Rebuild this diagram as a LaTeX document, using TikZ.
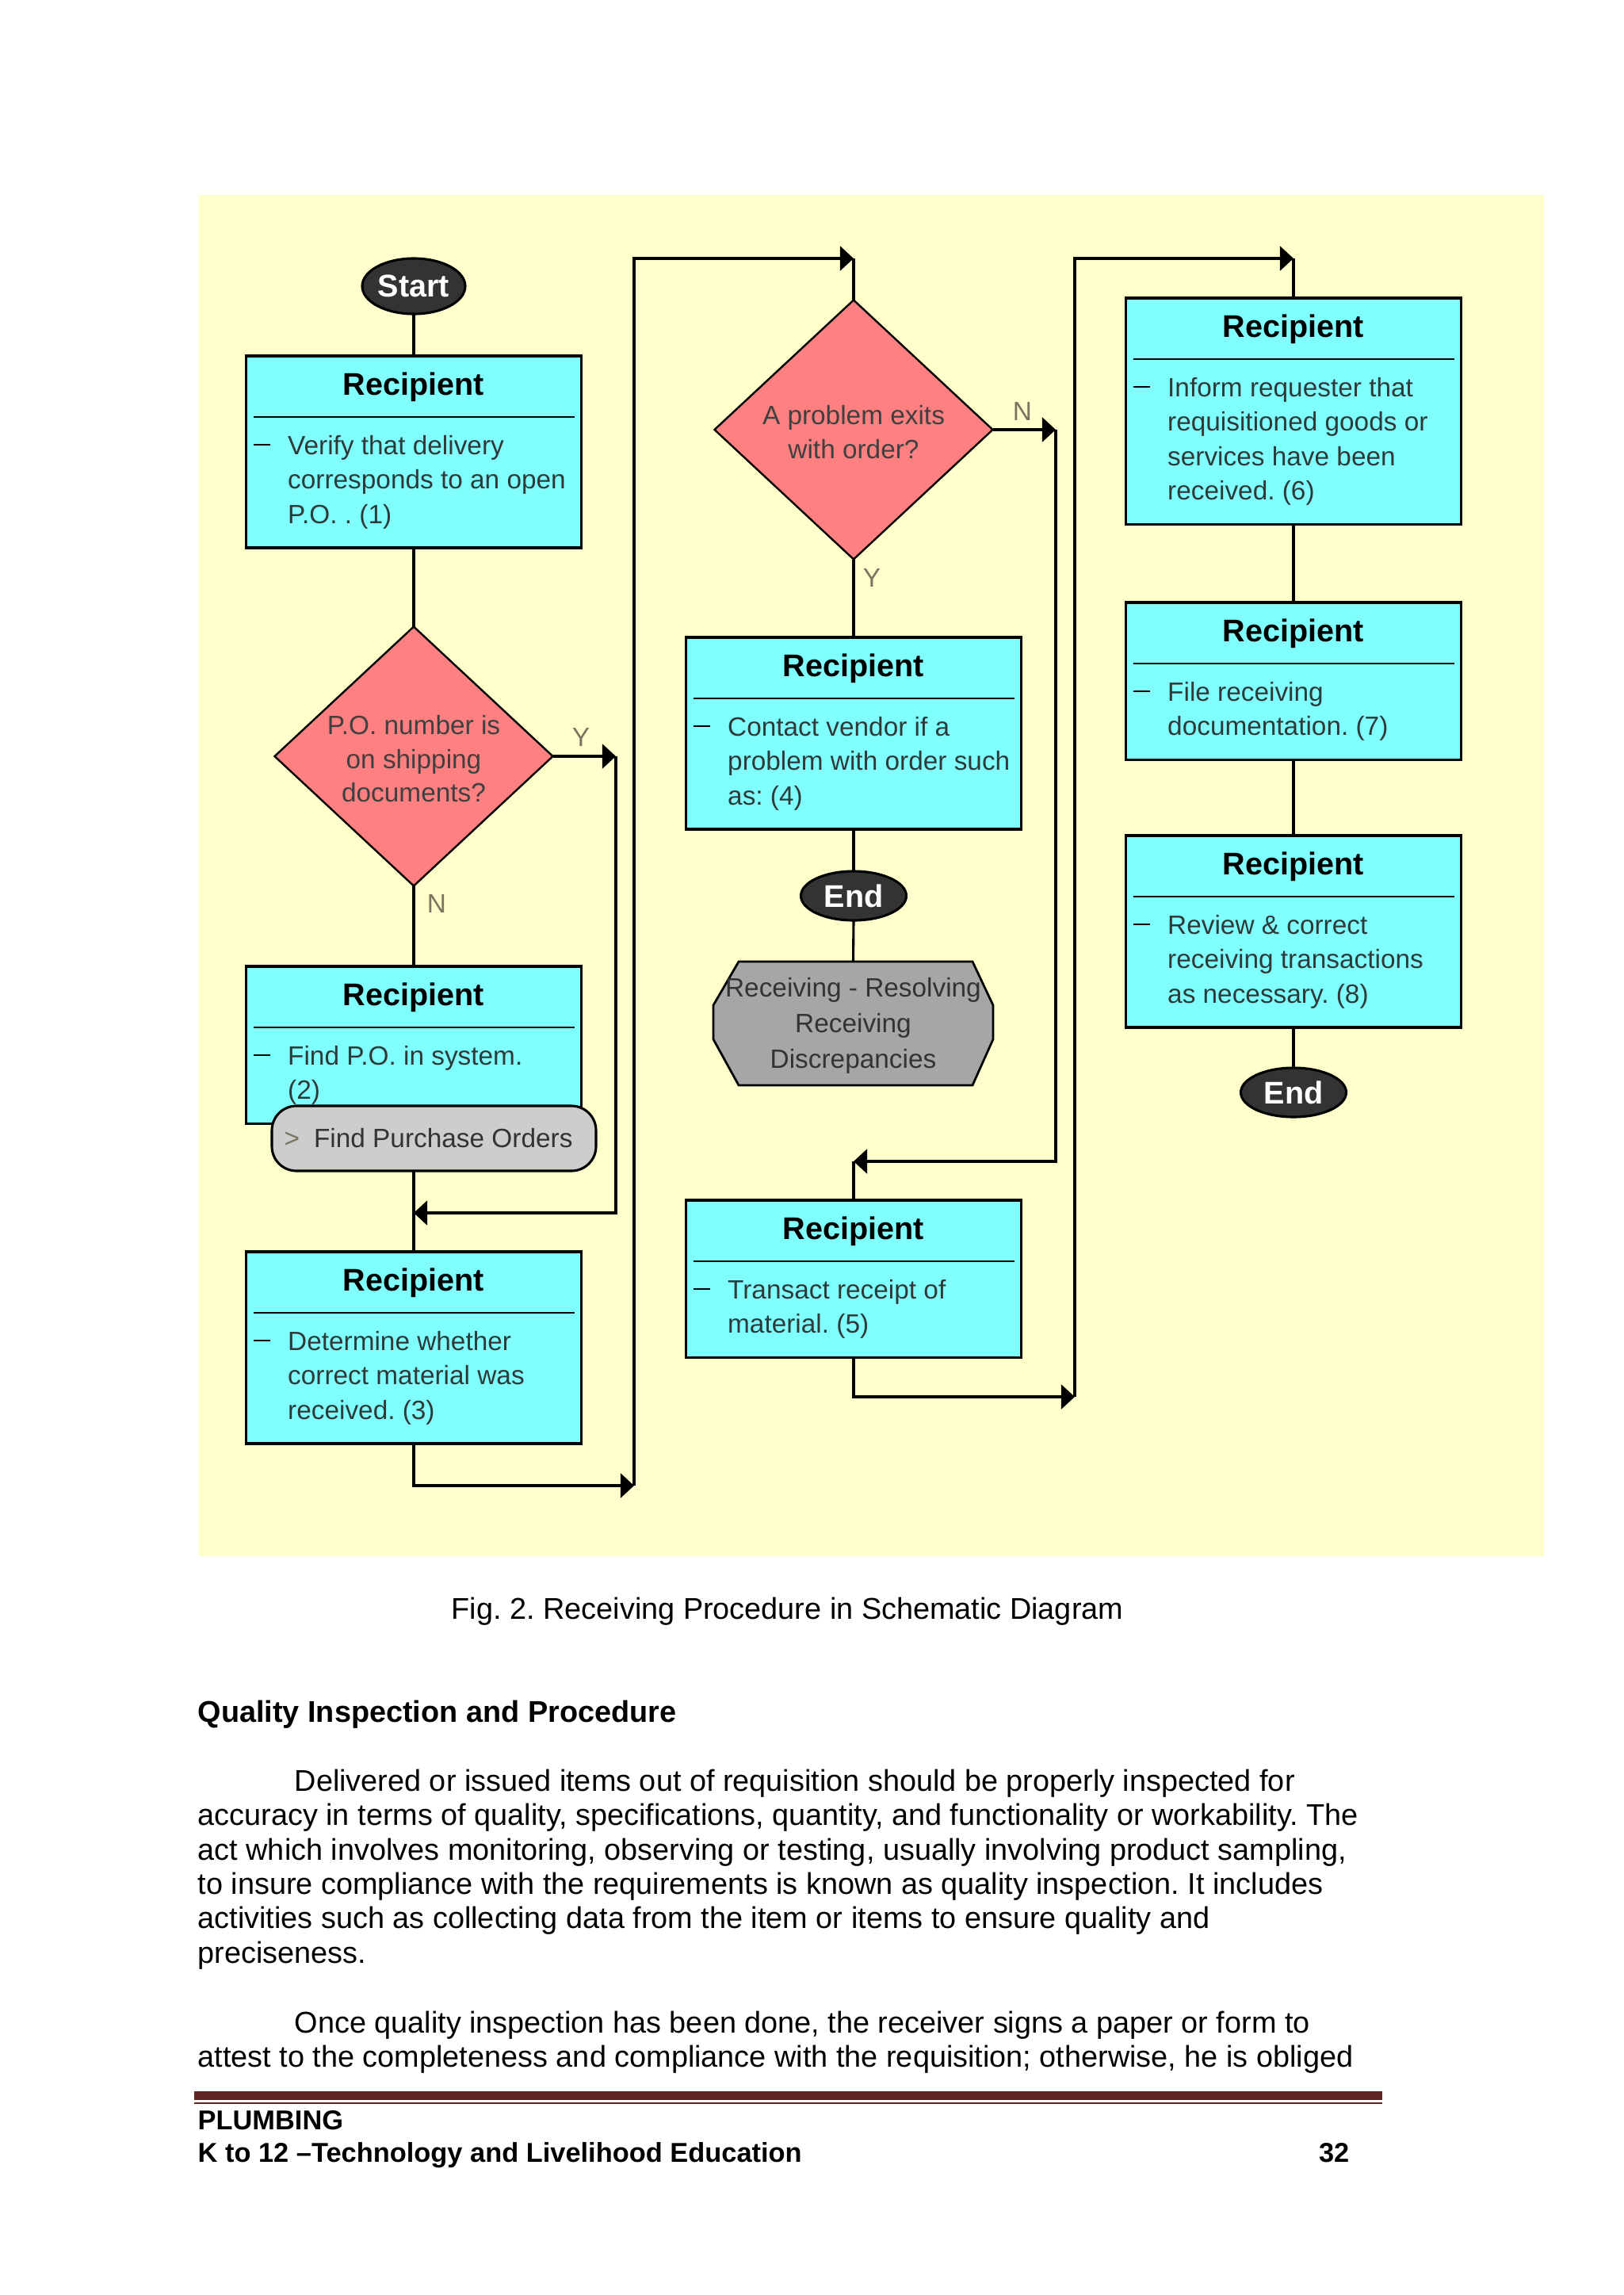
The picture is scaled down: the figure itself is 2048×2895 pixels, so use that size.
\documentclass[tikz,border=0pt]{standalone}
\usepackage{fontspec}
\setmainfont{Liberation Sans}
\usetikzlibrary{arrows.meta,shapes.geometric}
\frenchspacing
\definecolor{bgyel}{HTML}{FFFFCC}
\definecolor{boxcyan}{HTML}{80FFFF}
\definecolor{dred}{HTML}{FF8080}
\definecolor{termfill}{HTML}{333333}
\definecolor{grayshape}{HTML}{A6A6A6}
\definecolor{pillgray}{HTML}{CDCDCD}
\definecolor{rulered}{HTML}{622423}
\definecolor{boxtext}{HTML}{2E3A3A}
\definecolor{lblcol}{HTML}{7A7560}
\newcommand{\rbox}[4]{%
  \node[rbox, minimum height={#4*0.29067pt}] (#1) at ({#2},{#3+#4/2}) {};
  \node[rtitle] (#1t) at ({#2},{#3+49}) {Recipient};
  \draw[sepline] ({#2-202.5},{#3+77}) -- ({#2+202.5},{#3+77});
  \draw[sepline] ({#2-202.5},{#3+112}) -- ({#2-181.5},{#3+112});
}
\begin{document}
\begin{tikzpicture}[x=0.29067pt, y=-0.29067pt,
  rbox/.style={rectangle, draw, line width=0.9pt, fill=boxcyan, minimum width=122.95pt, inner sep=0pt, outer sep=0pt},
  rtitle/.style={font=\fontsize{11.5}{13}\selectfont\bfseries, anchor=base, inner sep=0pt},
  rtext/.style={font=\fontsize{9.7}{12}\selectfont, text=boxtext, anchor=base west, inner sep=0pt},
  sepline/.style={line width=0.8pt},
  conn/.style={line width=0.9pt},
  arr/.style={conn, -{Triangle[length=5pt,width=9pt]}},
  term/.style={ellipse, draw, line width=0.9pt, fill=termfill, text=white, font=\fontsize{11.5}{13}\selectfont\bfseries, inner sep=0pt, outer sep=0pt},
  dec/.style={diamond, draw, line width=0.7pt, fill=dred, inner sep=0pt, outer sep=0pt, aspect=1.07, minimum width=102.03pt, minimum height=95.05pt},
  dtext/.style={font=\fontsize{9.7}{12}\selectfont, text=black!75, anchor=base, inner sep=0pt},
  lbl/.style={font=\fontsize{9.7}{12}\selectfont, text=lblcol, inner sep=0pt},
  body/.style={font=\fontsize{11}{13}\selectfont, anchor=base west, inner sep=0pt},
  bodyb/.style={font=\fontsize{11}{13}\selectfont\bfseries, anchor=base west, inner sep=0pt},
  foot/.style={font=\fontsize{10}{12}\selectfont\bfseries, inner sep=0pt}
]
\useasboundingbox (0,0) rectangle (2048,2895);
\fill[white] (0,0) rectangle (2048,2895);
\fill[bgyel] (251,246) rectangle (1948,1963);

% ---------- left column ----------
\node[term, minimum width=37.79pt, minimum height=20.35pt] (start) at (522,361) {Start};
\rbox{b1}{522}{449}{242}
\node[rtext] (b1a) at (362.5,573) {Verify that delivery};
\node[rtext] (b1b) at (362.5,616.5) {corresponds to an open};
\node[rtext] (b1c) at (362.5,660) {P.O. . (1)};

\node[dec] (d1) at (522,954) {};
\node[dtext] (d1a) at (522,926) {P.O. number is};
\node[dtext] (d1b) at (522,969) {on shipping};
\node[dtext] (d1c) at (522,1011) {documents?};
\node[lbl] (y1) at (733,930) {Y};
\node[lbl] (n1) at (551,1140) {N};

\rbox{b2}{522}{1219}{198.5}
\node[rtext] (b2a) at (362.5,1343) {Find P.O. in system.};
\node[rtext] (b2b) at (362.5,1386.5) {(2)};
\node[rectangle, draw, line width=0.9pt, fill=pillgray, rounded corners=9pt, minimum width=118.88pt, minimum height=23.83pt, inner sep=0pt, outer sep=0pt] (pill) at (547.5,1436) {};
\node[rtext, text=black!80] (pillt) at (358,1447) {\textcolor{lblcol}{>}\hspace{5.2pt}Find Purchase Orders};

\rbox{b3}{522}{1579}{242}
\node[rtext] (b3a) at (362.5,1703) {Determine whether};
\node[rtext] (b3b) at (362.5,1746.5) {correct material was};
\node[rtext] (b3c) at (362.5,1790) {received. (3)};

% ---------- middle column ----------
\node[dec] (d2) at (1077,542) {};
\node[dtext] (d2a) at (1077,535) {A problem exits};
\node[dtext] (d2b) at (1077,578) {with order?};
\node[lbl] (n2) at (1290,519) {N};
\node[lbl] (y2) at (1100,729) {Y};

\rbox{b4}{1077}{804}{242}
\node[rtext] (b4a) at (917.5,928) {Contact vendor if a};
\node[rtext] (b4b) at (917.5,971.5) {problem with order such};
\node[rtext] (b4c) at (917.5,1015) {as: (4)};

\node[term, minimum width=38.66pt, minimum height=18.02pt] (end1) at (1077,1130) {End};

\node[rectangle, inner sep=0pt, outer sep=0pt, minimum width=102.6pt, minimum height=45.3pt] (gs) at (1076.5,1291) {};
\draw[line width=0.8pt, fill=grayshape] (932,1213) -- (1227,1213) -- (1253,1268) -- (1253,1311) -- (1227,1369) -- (932,1369) -- (900,1311) -- (900,1268) -- cycle;
\node[dtext, text=black!80] (gsa) at (1076.5,1257) {Receiving - Resolving};
\node[dtext, text=black!80] (gsb) at (1076.5,1302) {Receiving};
\node[dtext, text=black!80] (gsc) at (1076.5,1347) {Discrepancies};

\rbox{b5}{1077}{1514}{198.5}
\node[rtext] (b5a) at (917.5,1638) {Transact receipt of};
\node[rtext] (b5b) at (917.5,1681.5) {material. (5)};

% ---------- right column ----------
\rbox{b6}{1632}{376}{285.5}
\node[rtext] (b6a) at (1472.5,500) {Inform requester that};
\node[rtext] (b6b) at (1472.5,543.5) {requisitioned goods or};
\node[rtext] (b6c) at (1472.5,587) {services have been};
\node[rtext] (b6d) at (1472.5,630.5) {received. (6)};

\rbox{b7}{1632}{760}{198.5}
\node[rtext] (b7a) at (1472.5,884) {File receiving};
\node[rtext] (b7b) at (1472.5,927.5) {documentation. (7)};

\rbox{b8}{1632}{1054}{242}
\node[rtext] (b8a) at (1472.5,1178) {Review \& correct};
\node[rtext] (b8b) at (1472.5,1221.5) {receiving transactions};
\node[rtext] (b8c) at (1472.5,1265) {as necessary. (8)};

\node[term, minimum width=38.66pt, minimum height=18.02pt] (end2) at (1632,1378) {End};

% ---------- connectors ----------
\coordinate (cY1) at (777,954);
\coordinate (cY2) at (522,1530);
\coordinate (cB2) at (800,1874);
\coordinate (cB4) at (1077,326);
\coordinate (cN1) at (1332,542);
\coordinate (cN2) at (1077,1465);
\coordinate (cD2) at (1356,1762);
\coordinate (cD4) at (1632,326);

\draw[conn] (start.south) -- (b1.north);
\draw[conn] (b1.south) -- (d1.north);
\draw[conn] (d1.south) -- (b2.north);
\draw[conn] (b3.north |- pill.south) -- (b3.north);
\draw[arr] (d1.east) -- (cY1);
\draw[arr] (cY1) |- (cY2);
\draw[arr] (b3.south) |- (cB2);
\draw[arr] (cB2) |- (cB4);
\draw[conn] (cB4) -- (d2.north);
\draw[conn] (d2.south) -- (b4.north);
\draw[conn] (b4.south) -- (end1.north);
\draw[conn] (end1.south) -- (gs.north);
\draw[arr] (d2.east) -- (cN1);
\draw[arr] (cN1) |- (cN2);
\draw[conn] (cN2) -- (b5.north);
\draw[arr] (b5.south) |- (cD2);
\draw[arr] (cD2) |- (cD4);
\draw[conn] (cD4) -- (b6.north);
\draw[conn] (b6.south) -- (b7.north);
\draw[conn] (b7.south) -- (b8.north);
\draw[conn] (b8.south) -- (end2.north);

% ---------- page text ----------
\node[body] (cap) at (569,2042) {Fig. 2. Receiving Procedure in Schematic Diagram};
\node[bodyb] (head) at (249,2172) {Quality Inspection and Procedure};
\node[body] (p1a) at (371,2259) {Delivered or issued items out of requisition should be properly inspected for};
\node[body] (p1b) at (249,2302) {accuracy in terms of quality, specifications, quantity, and functionality or workability. The};
\node[body] (p1c) at (249,2346) {act which involves monitoring, observing or testing, usually involving product sampling,};
\node[body] (p1d) at (249,2389) {to insure compliance with the requirements is known as quality inspection. It includes};
\node[body] (p1e) at (249,2432) {activities such as collecting data from the item or items to ensure quality and};
\node[body] (p1f) at (249,2476) {preciseness.};
\node[body] (p2a) at (371,2564) {Once quality inspection has been done, the receiver signs a paper or form to};
\node[body] (p2b) at (249,2607) {attest to the completeness and compliance with the requisition; otherwise, he is obliged};

\fill[rulered] (245,2637.5) rectangle (1744,2649);
\fill[rulered] (245,2651.5) rectangle (1744,2654);
\node[foot, anchor=base west] (f1) at (249,2686) {PLUMBING};
\node[foot, anchor=base west] (f2) at (249,2727) {K to 12 \textendash Technology and Livelihood Education};
\node[foot, anchor=base east] (f3) at (1703,2727) {32};
\end{tikzpicture}
\end{document}
